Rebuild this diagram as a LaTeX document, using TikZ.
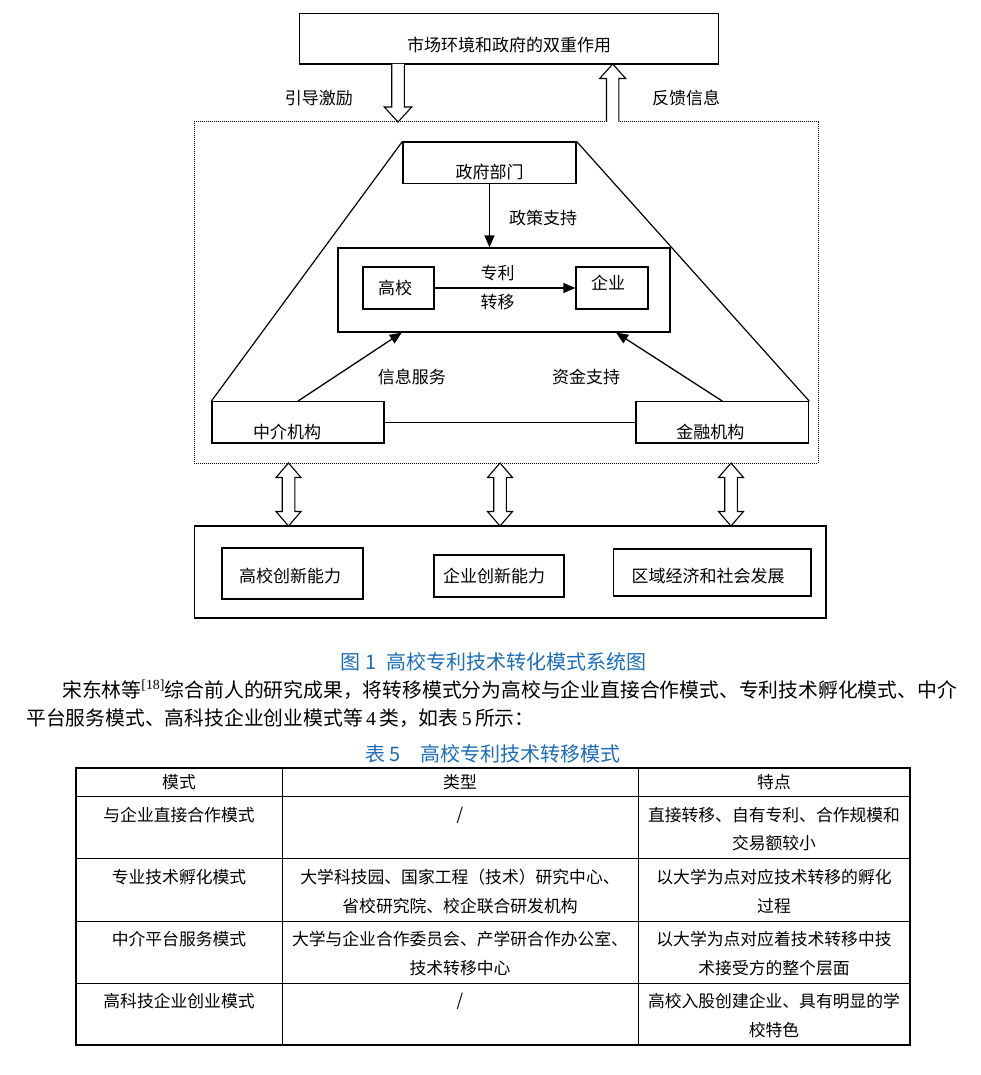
\documentclass[tikz,border=0pt]{standalone}
\usepackage{fontspec}
\setmainfont{Liberation Serif}
\newfontfamily\cjk{Noto Sans CJK SC}
\usetikzlibrary{arrows.meta,calc}
\definecolor{capblue}{RGB}{27,108,186}
\begin{document}
\begin{tikzpicture}[x=1pt,y=-1pt,
  box/.style={draw,line width=1.2pt,rectangle,inner sep=0pt},
  lbl/.style={font=\cjk\fontsize{17}{19}\selectfont,inner sep=0pt},
  tbl/.style={font=\cjk\fontsize{16.8}{18}\selectfont,inner sep=0pt},
  para/.style={font=\cjk\fontsize{19.8}{22}\selectfont,inner sep=0pt,anchor=west},
  captext/.style={font=\cjk\fontsize{20}{22}\selectfont,inner sep=0pt,text=capblue},
  conn/.style={line width=1.3pt,-{Triangle[length=12pt,width=10pt]}},
  hollow/.style={line width=1.1pt,fill=white,line join=miter},
  hollowdown/.pic={\draw[hollow] (-6.3,0) -- (-6.3,43) -- (-13.7,43) -- (0,58) -- (13.7,43) -- (6.3,43) -- (6.3,0);},
  hollowup/.pic={\draw[hollow] (-6.2,58) -- (-6.2,14.5) -- (-13,14.5) -- (0,0) -- (13,14.5) -- (6.2,14.5) -- (6.2,58);},
  hollowboth/.pic={\draw[hollow] (0,0) -- (12.5,14.5) -- (6.3,14.5) -- (6.3,48.5) -- (12.5,48.5) -- (0,63) -- (-12.5,48.5) -- (-6.3,48.5) -- (-6.3,14.5) -- (-12.5,14.5) -- cycle;}
]
\useasboundingbox (0,0) rectangle (980,1075);

% top box
\node[box,minimum width=419pt,minimum height=50.7pt] (top) at (509.2,38.7) {};
\node[lbl] (toptxt) at (509,45) {市场环境和政府的双重作用};

% dotted frame
\node[draw,densely dotted,line width=1pt,rectangle,inner sep=0pt,minimum width=624pt,minimum height=341pt] (frame) at (506,292.5) {};

% hollow arrows top
\pic at (398,64) {hollowdown};
\pic at (612.7,64) {hollowup};
\node[lbl] (l1) at (318.8,98) {引导激励};
\node[lbl] (l2) at (686,98) {反馈信息};

% inner structure
\node[box,minimum width=173pt,minimum height=41.3pt] (gov) at (489.5,162.7) {};
\node[lbl] at ([yshift=-9pt]gov.center) {政府部门};
\node[box,minimum width=332pt,minimum height=84pt] (cbox) at (504,290) {};
\node[box,minimum width=71pt,minimum height=42pt] (gx) at (398.5,288) {};
\node[lbl] at ([xshift=-3.5pt]gx.center) {高校};
\node[box,minimum width=72pt,minimum height=42pt] (qy) at (612,288) {};
\node[lbl] at ([xshift=-4pt,yshift=5pt]qy.center) {企业};
\node[box,minimum width=172pt,minimum height=41.3pt] (zj) at (298,422.3) {};
\node[lbl] at ([xshift=-11pt,yshift=-10pt]zj.center) {中介机构};
\node[box,minimum width=172.6pt,minimum height=41.3pt] (jr) at (722.3,422.3) {};
\node[lbl] at ([xshift=-12pt,yshift=-10pt]jr.center) {金融机构};

\draw[line width=1.2pt] (gov.north west) -- (zj.north west);
\draw[line width=1.2pt] (gov.north east) -- (jr.north east);
\draw[line width=1.2pt] (zj.east) -- (jr.west);

\draw[conn] (gov.south) -- (gov.south |- cbox.north);
\node[lbl] at (543,218) {政策支持};
\draw[conn] (gx.east) -- (qy.west);
\node[lbl] at (497.6,273) {专利};
\node[lbl] at (497.6,302) {转移};
\coordinate (cin1) at ($(cbox.south west)+(64.4,0)$);
\coordinate (cin2) at ($(cbox.south west)+(278.7,0)$);
\draw[conn] (zj.north) -- (cin1);
\draw[conn] (jr.north) -- (cin2);
\node[lbl] at (411.8,377) {信息服务};
\node[lbl] at (586,377) {资金支持};

% double arrows
\pic at (288.5,463) {hollowboth};
\pic at (500,463) {hollowboth};
\pic at (731,463) {hollowboth};

% bottom box
\node[box,minimum width=631.3pt,minimum height=92pt] (bot) at (510.3,572) {};
\node[box,minimum width=141pt,minimum height=51pt] (b1) at (292.5,573.5) {};
\node[lbl] at ([xshift=-2.5pt,yshift=-3pt]b1.center) {高校创新能力};
\node[box,minimum width=130pt,minimum height=42pt] (b2) at (499,576) {};
\node[lbl] at ([xshift=-5pt]b2.center) {企业创新能力};
\node[box,minimum width=197.5pt,minimum height=47pt] (b3) at (712.2,572.5) {};
\node[lbl] at ([xshift=-4pt,yshift=-4pt]b3.center) {区域经济和社会发展};

% captions and paragraph
\node[captext] (cap1) at (493.5,662) {图 1\enspace 高校专利技术转化模式系统图};
\node[para] (p1) at (62,690) {宋东林等\textsuperscript{\rmfamily[18]}综合前人的研究成果，将转移模式分为高校与企业直接合作模式、专利技术孵化模式、中介};
\node[para] (p2) at (26,718) {平台服务模式、高科技企业创业模式等\,{\rmfamily 4}\,类，如表\,{\rmfamily 5}\,所示：};
\node[captext] (cap2) at (493,754) {表\,5\quad 高校专利技术转移模式};

% table
\draw[line width=0.9pt] (282,768) -- (282,1045) (638,768) -- (638,1045);
\draw[line width=0.9pt] (76,796) -- (910,796) (76,858) -- (910,858) (76,921) -- (910,921) (76,983) -- (910,983);
\draw[line width=1.8pt] (76,768) rectangle (910,1045);

\node[tbl] at (179,782) {模式};
\node[tbl] at (460,782) {类型};
\node[tbl] at (774,782) {特点};

\node[tbl] at (179,815) {与企业直接合作模式};
\node[tbl] at (460,815) {/};
\node[tbl] at (774,815) {直接转移、自有专利、合作规模和};
\node[tbl] at (774,843) {交易额较小};

\node[tbl] at (179,877) {专业技术孵化模式};
\node[tbl] at (460,877) {大学科技园、国家工程（技术）研究中心、};
\node[tbl] at (460,906) {省校研究院、校企联合研发机构};
\node[tbl] at (774,877) {以大学为点对应技术转移的孵化};
\node[tbl] at (774,906) {过程};

\node[tbl] at (179,939) {中介平台服务模式};
\node[tbl] at (460,939) {大学与企业合作委员会、产学研合作办公室、};
\node[tbl] at (460,968) {技术转移中心};
\node[tbl] at (774,939) {以大学为点对应着技术转移中技};
\node[tbl] at (774,968) {术接受方的整个层面};

\node[tbl] at (179,1001) {高科技企业创业模式};
\node[tbl] at (460,1001) {/};
\node[tbl] at (774,1001) {高校入股创建企业、具有明显的学};
\node[tbl] at (774,1030) {校特色};
\end{tikzpicture}
\end{document}
